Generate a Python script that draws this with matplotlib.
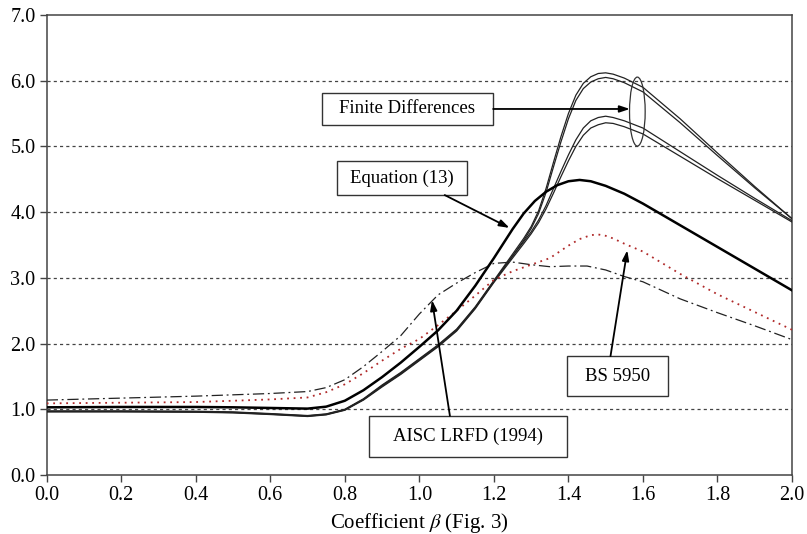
import matplotlib
matplotlib.use("Agg")
import matplotlib.pyplot as plt
from matplotlib.patches import Rectangle, Ellipse

plt.rcParams['font.family'] = ['Liberation Serif', 'DejaVu Serif']
plt.rcParams['mathtext.fontset'] = 'stix'

# ---------------- data ----------------
fd_x = [0, 0.2, 0.4, 0.5, 0.6, 0.7, 0.75, 0.8, 0.85, 0.9, 0.95, 1.0, 1.05, 1.1, 1.15,
        1.2, 1.25, 1.28, 1.3, 1.32, 1.34, 1.36, 1.38, 1.4, 1.42, 1.44, 1.46, 1.48,
        1.5, 1.52, 1.55, 1.6, 1.7, 1.8, 1.9, 2.0]
fd_a = [0.975, 0.975, 0.97, 0.96, 0.935, 0.905, 0.93, 1.0, 1.16, 1.37, 1.56, 1.77, 1.98,
        2.22, 2.56, 2.96, 3.36, 3.6, 3.78, 4.02, 4.36, 4.76, 5.15, 5.5, 5.78, 5.96,
        6.06, 6.11, 6.12, 6.1, 6.04, 5.9, 5.42, 4.9, 4.39, 3.9]
fd_b = [0.965, 0.965, 0.96, 0.95, 0.925, 0.895, 0.92, 0.99, 1.15, 1.35, 1.54, 1.75, 1.96,
        2.2, 2.54, 2.94, 3.33, 3.57, 3.75, 3.98, 4.3, 4.69, 5.07, 5.42, 5.7, 5.88,
        5.98, 6.03, 6.05, 6.03, 5.97, 5.83, 5.36, 4.86, 4.37, 3.9]
fd_c = [0.97, 0.97, 0.965, 0.955, 0.93, 0.9, 0.925, 0.995, 1.15, 1.36, 1.55, 1.76, 1.97,
        2.21, 2.55, 2.95, 3.33, 3.55, 3.7, 3.88, 4.1, 4.36, 4.62, 4.87, 5.1, 5.28,
        5.39, 5.44, 5.46, 5.44, 5.39, 5.28, 4.92, 4.56, 4.21, 3.87]
fd_d = [0.96, 0.96, 0.955, 0.945, 0.92, 0.89, 0.915, 0.985, 1.14, 1.34, 1.53, 1.74, 1.95,
        2.19, 2.53, 2.93, 3.3, 3.52, 3.67, 3.84, 4.05, 4.29, 4.54, 4.78, 5.0, 5.17,
        5.28, 5.33, 5.36, 5.35, 5.3, 5.19, 4.85, 4.51, 4.18, 3.85]

eq_x = [0, 0.2, 0.4, 0.5, 0.6, 0.7, 0.75, 0.8, 0.85, 0.9, 0.95, 1.0, 1.05, 1.1, 1.15,
        1.2, 1.25, 1.28, 1.31, 1.34, 1.37, 1.4, 1.43, 1.46, 1.5, 1.55, 1.6, 1.7, 1.8,
        1.9, 2.0]
eq_y = [1.03, 1.035, 1.035, 1.03, 1.02, 1.01, 1.04, 1.13, 1.29, 1.49, 1.71, 1.95, 2.2,
        2.5, 2.88, 3.3, 3.74, 3.98, 4.17, 4.31, 4.41, 4.47, 4.49, 4.47, 4.4, 4.28,
        4.13, 3.8, 3.47, 3.14, 2.81]

aisc_x = [0, 0.2, 0.4, 0.5, 0.6, 0.7, 0.75, 0.8, 0.85, 0.9, 0.95, 1.0, 1.05, 1.1, 1.15,
          1.2, 1.25, 1.3, 1.35, 1.4, 1.45, 1.5, 1.55, 1.6, 1.7, 1.8, 1.9, 2.0]
aisc_y = [1.14, 1.17, 1.2, 1.22, 1.24, 1.27, 1.33, 1.45, 1.65, 1.88, 2.12, 2.45, 2.74,
          2.92, 3.08, 3.22, 3.24, 3.2, 3.17, 3.18, 3.18, 3.12, 3.02, 2.94, 2.68, 2.47,
          2.27, 2.06]

bs_x = [0, 0.2, 0.4, 0.5, 0.6, 0.7, 0.75, 0.8, 0.85, 0.9, 0.95, 1.0, 1.05, 1.1, 1.15,
        1.2, 1.25, 1.3, 1.35, 1.4, 1.43, 1.46, 1.48, 1.5, 1.52, 1.55, 1.6, 1.7, 1.8,
        1.9, 2.0]
bs_y = [1.09, 1.1, 1.11, 1.13, 1.15, 1.18, 1.26, 1.38, 1.55, 1.74, 1.92, 2.07, 2.28,
        2.5, 2.73, 2.97, 3.1, 3.2, 3.3, 3.49, 3.59, 3.65, 3.66, 3.64, 3.6, 3.52, 3.4,
        3.06, 2.75, 2.48, 2.21]

x_ticks = [0.0, 0.2, 0.4, 0.6, 0.8, 1.0, 1.2, 1.4, 1.6, 1.8, 2.0]
y_ticks = [0.0, 1.0, 2.0, 3.0, 4.0, 5.0, 6.0, 7.0]
grid_levels = [1.0, 2.0, 3.0, 4.0, 5.0, 6.0]

# ---------------- figure ----------------
fig = plt.figure(figsize=(8.07, 5.34), dpi=100)
ax = fig.add_axes([0.0579, 0.1105, 0.9235, 0.8614])
ax.set_xlim(0, 2.0)
ax.set_ylim(0, 7.0)

for g in grid_levels:
    ax.axhline(g, color='#444444', lw=0.9, linestyle=(0, (2.5, 2.5)), zorder=1)

fd_kw = dict(color='#222222', lw=0.9, zorder=3)
ax.plot(fd_x, fd_a, **fd_kw)
ax.plot(fd_x, fd_b, **fd_kw)
ax.plot(fd_x, fd_c, **fd_kw)
ax.plot(fd_x, fd_d, **fd_kw)
ax.plot(eq_x, eq_y, color='black', lw=1.8, zorder=4)
ax.plot(aisc_x, aisc_y, color='#222222', lw=0.9, linestyle=(0, (9, 3, 1.5, 3)), zorder=3)
ax.plot(bs_x, bs_y, color='#b02a2a', lw=1.3, linestyle=(0, (1, 2.6)), zorder=3)

ax.set_xticks(x_ticks)
ax.set_yticks(y_ticks)
ax.set_xticklabels([f"{v:.1f}" for v in x_ticks])
ax.set_yticklabels([f"{v:.1f}" for v in y_ticks])
ax.tick_params(direction='out', length=5, width=1, color='#444444', labelsize=14.5,
               pad=3)
for s in ax.spines.values():
    s.set_color('#444444')
    s.set_linewidth(1.1)
ax.set_xlabel(r"Coefficient $\beta$ (Fig. 3)", fontsize=15, labelpad=4)

# ---------------- annotations ----------------
def box(x0, y0, x1, y1, text):
    ax.add_patch(Rectangle((x0, y0), x1 - x0, y1 - y0, facecolor='white',
                           edgecolor='#333333', lw=1.0, zorder=6))
    ax.text((x0 + x1) / 2, (y0 + y1) / 2, text, ha='center', va='center',
            fontsize=13.5, zorder=7)

arrow_kw = dict(arrowstyle='-|>,head_length=0.6,head_width=0.2', color='black',
                lw=1.3, shrinkA=0, shrinkB=0)

# Finite Differences
box(0.738, 5.33, 1.198, 5.82, "Finite Differences")
ax.annotate("", xy=(1.565, 5.57), xytext=(1.198, 5.57), arrowprops=arrow_kw, zorder=8)
ax.add_patch(Ellipse((1.585, 5.53), 0.042, 1.05, fill=False, edgecolor='#333333',
                     lw=0.9, zorder=5))

# Equation (13)
box(0.778, 4.26, 1.127, 4.78, "Equation (13)")
ax.annotate("", xy=(1.242, 3.76), xytext=(1.068, 4.26), arrowprops=arrow_kw, zorder=8)

# AISC LRFD (1994)
box(0.865, 0.28, 1.396, 0.90, "AISC LRFD (1994)")
ax.annotate("", xy=(1.034, 2.66), xytext=(1.082, 0.90), arrowprops=arrow_kw, zorder=8)

# BS 5950
box(1.396, 1.20, 1.667, 1.81, "BS 5950")
ax.annotate("", xy=(1.558, 3.42), xytext=(1.513, 1.81), arrowprops=arrow_kw, zorder=8)

fig.savefig("out.png", dpi=100)
